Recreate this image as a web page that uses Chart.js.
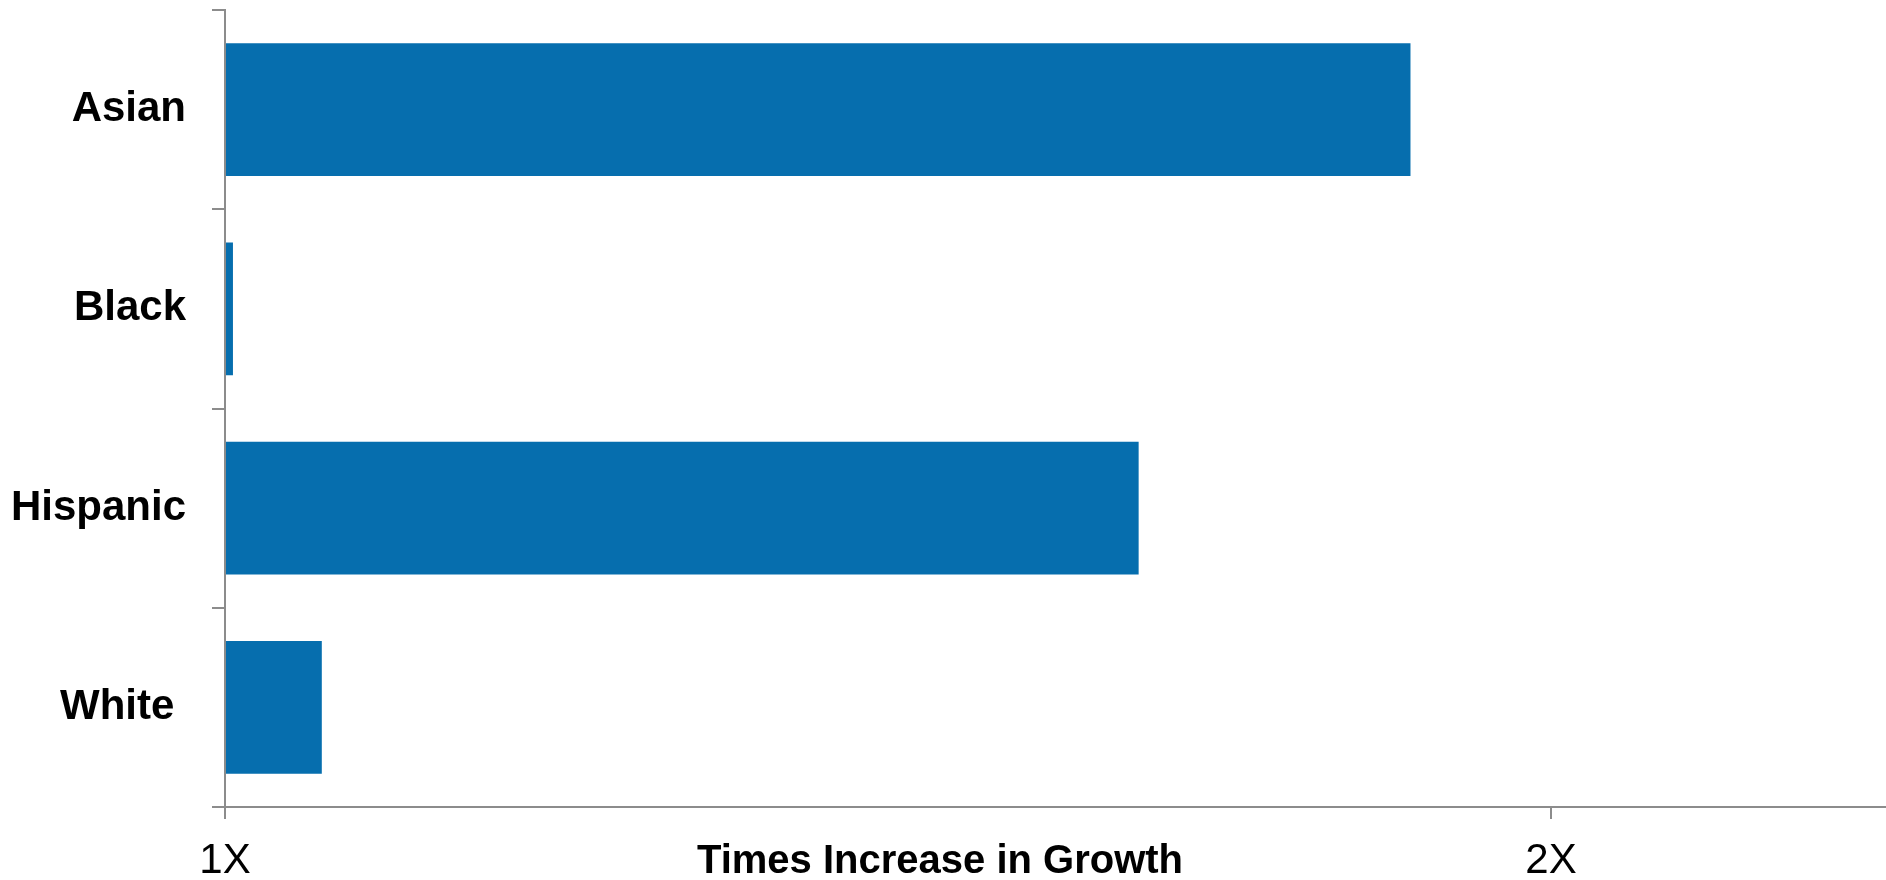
<!DOCTYPE html>
<html>
<head>
<meta charset="utf-8">
<script src="https://cdn.jsdelivr.net/npm/chart.js@4.4.1/dist/chart.umd.min.js"></script>
<style>
  html, body { margin: 0; padding: 0; background: #fff; }
  #wrap { width: 1886px; height: 880px; }
</style>
</head>
<body>
<div id="wrap"><canvas id="growthChart" width="1886" height="880"></canvas></div>
<script>
// data
var groups = ["Asian", "Black", "Hispanic", "White "];
var growth = [1.894, 1.006, 1.689, 1.073];
var tickValues = [1, 2];
var tickLabels = ["1X", "2X"];
var axisTitle = "Times Increase in Growth";

var barColor = "#066eae";
var axisColor = "#8c8c8c";
var fontFamily = "'Liberation Sans', Arial, sans-serif";

/* axis title sits on the same line as the tick labels */
var bottomTitle = {
    id: "bottomTitle",
    afterDraw: function(chart) {
        var ctx = chart.ctx;
        ctx.save();
        ctx.font = "bold 40px " + fontFamily;
        ctx.fillStyle = "#000";
        ctx.textAlign = "center";
        ctx.textBaseline = "alphabetic";
        ctx.fillText(axisTitle, 940, 873);
        ctx.restore();
    }
};

var ctx = document.getElementById("growthChart").getContext("2d");
var growthChart = new Chart(ctx, {
    type: "bar",
    data: {
        labels: groups,
        datasets: [{
            data: growth,
            backgroundColor: barColor,
            borderWidth: 0,
            categoryPercentage: 1,
            barPercentage: 0.665,
            base: 1
        }]
    },
    options: {
        indexAxis: "y",
        responsive: false,
        animation: false,
        layout: { padding: { top: 10, left: 0, right: 0, bottom: 0 } },
        plugins: {
            legend: { display: false },
            tooltip: { enabled: false }
        },
        scales: {
            x: {
                type: "linear",
                min: 1,
                max: 2.2526,
                afterBuildTicks: function(scale) {
                    scale.ticks = tickValues.map(function(v) { return { value: v }; });
                },
                afterFit: function(scale) {
                    scale.height = 73;
                    scale.paddingLeft = 0;
                    scale.paddingRight = 0;
                },
                ticks: {
                    autoSkip: false,
                    maxRotation: 0,
                    padding: 17,
                    color: "#000",
                    font: { family: fontFamily, size: 42 },
                    callback: function(value) {
                        return tickLabels[tickValues.indexOf(value)];
                    }
                },
                grid: {
                    drawOnChartArea: false,
                    tickLength: 12,
                    color: axisColor,
                    lineWidth: 2
                },
                border: { display: true, color: axisColor, width: 2 }
            },
            y: {
                afterFit: function(scale) {
                    scale.width = 225;
                    scale.paddingTop = 0;
                    scale.paddingBottom = 0;
                },
                ticks: {
                    padding: 26,
                    color: "#000",
                    font: { family: fontFamily, size: 42, weight: "bold" }
                },
                grid: {
                    offset: true,
                    drawOnChartArea: false,
                    tickLength: 13,
                    color: axisColor,
                    lineWidth: 2
                },
                border: { display: true, color: axisColor, width: 2 }
            }
        }
    },
    plugins: [bottomTitle]
});
</script>
</body>
</html>
